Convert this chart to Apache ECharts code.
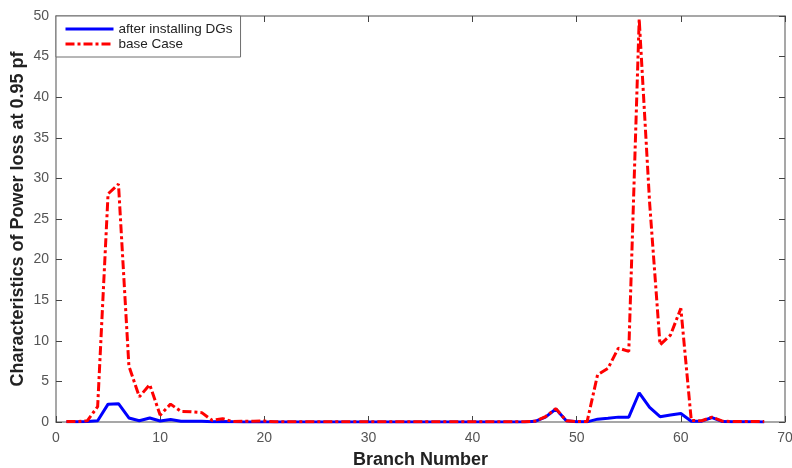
<!DOCTYPE html>
<html>
<head>
<meta charset="utf-8">
<script src="https://cdn.jsdelivr.net/npm/echarts@6/dist/echarts.min.js"></script>
<style>
html,body{margin:0;padding:0;background:#fff;}
#main{width:792px;height:468px;}
</style>
</head>
<body>
<div id="main"></div>
<script>
// branch numbers and power loss values
var branches = [];
for (var b = 1; b <= 68; b++) branches.push(b);

var afterDG = [0.02,0.02,0.05,0.15,2.2,2.25,0.5,0.15,0.5,0.12,
	0.3,0.1,0.08,0.08,0.03,0.05,0.02,0.01,0.01,0.01,
	0.01,0.01,0.01,0.01,0.01,0.01,0.01,0.01,0.01,0.01,
	0.01,0.01,0.01,0.01,0.01,0.01,0.01,0.01,0.01,0.01,
	0.01,0.01,0.01,0.01,0.01,0.08,0.6,1.6,0.15,0.03,
	0.02,0.35,0.45,0.6,0.6,3.6,1.8,0.65,0.85,1.05,
	0.1,0.1,0.55,0.05,0.03,0.02,0.02,0.01];

var baseCase = [0.05,0.05,0.15,1.9,28.1,29.3,6.9,3.1,4.6,0.85,
	2.2,1.3,1.25,1.15,0.2,0.4,0.05,0.1,0.1,0.12,
	0.03,0.03,0.03,0.03,0.03,0.03,0.03,0.03,0.03,0.03,
	0.03,0.03,0.03,0.03,0.03,0.03,0.03,0.03,0.03,0.03,
	0.03,0.03,0.03,0.03,0.03,0.1,0.65,1.65,0.15,0.05,
	0.05,5.8,6.6,9.1,8.7,49.6,27,9.5,10.7,14.0,
	0.2,0.15,0.6,0.1,0.05,0.05,0.05,0.05];

var xTicks = [0,10,20,30,40,50,60,70];
var yTicks = [0,5,10,15,20,25,30,35,40,45,50];

function pairs(vals){
	var out = [];
	for (var i in branches) out.push([branches[i], vals[i]]);
	return out;
}

var axisGray = '#8a8a8a';
var font = 'Liberation Sans, Arial, sans-serif';

var myChart = echarts.init(document.getElementById('main'));
var option = {
	animation:false,
	backgroundColor:'#fff',
	grid:{left:56, right:7, top:16, bottom:46, containLabel:false, outerBoundsMode:'none'},
	legend:{
		orient:'vertical',
		left:56, top:16,
		padding:[6,8,6,8],
		itemGap:1,
		itemWidth:48, itemHeight:14,
		itemStyle:{opacity:0},
		lineStyle:{width:3},
		backgroundColor:'#fff',
		borderColor:'#6e6e6e', borderWidth:1, borderRadius:0,
		textStyle:{fontFamily:font, fontSize:13.5, color:'#222'},
		data:['after installing DGs','base Case']
	},
	xAxis:[{
		type:'value', min:xTicks[0], max:xTicks[xTicks.length-1], interval:10,
		name:'Branch Number', nameLocation:'middle', nameGap:29,
		nameTextStyle:{fontFamily:font, fontSize:18, fontWeight:'bold', color:'#222'},
		axisLine:{show:true, onZero:false, lineStyle:{color:axisGray, width:1.5}},
		axisTick:{show:true, inside:true, length:6, lineStyle:{color:'#444'}},
		axisLabel:{fontFamily:font, fontSize:14, color:'#555', margin:9},
		splitLine:{show:false}
	},{
		type:'value', position:'top', min:0, max:70, interval:10,
		axisLine:{show:true, onZero:false, lineStyle:{color:axisGray, width:1.5}},
		axisTick:{show:true, inside:true, length:6, lineStyle:{color:'#444'}},
		axisLabel:{show:false}, splitLine:{show:false}
	}],
	yAxis:[{
		type:'value', min:yTicks[0], max:yTicks[yTicks.length-1], interval:5,
		name:'Characteristics of Power loss at 0.95 pf', nameLocation:'middle', nameGap:29,
		nameMoveOverlap:false,
		nameTextStyle:{fontFamily:font, fontSize:18, fontWeight:'bold', color:'#222'},
		axisLine:{show:true, onZero:false, lineStyle:{color:axisGray, width:1.5}},
		axisTick:{show:true, inside:true, length:6, lineStyle:{color:'#444'}},
		axisLabel:{fontFamily:font, fontSize:14, color:'#555', margin:7},
		splitLine:{show:false}
	},{
		type:'value', position:'right', min:0, max:50, interval:5,
		axisLine:{show:true, onZero:false, lineStyle:{color:axisGray, width:1.5}},
		axisTick:{show:true, inside:true, length:6, lineStyle:{color:'#444'}},
		axisLabel:{show:false}, splitLine:{show:false}
	}],
	series:[{
		name:'after installing DGs',
		type:'line',
		symbol:'none',
		data:pairs(afterDG),
		itemStyle:{color:'#0000ff'},
		lineStyle:{color:'#0000ff', width:3}
	},{
		name:'base Case',
		type:'line',
		symbol:'none',
		data:pairs(baseCase),
		itemStyle:{color:'#ff0000'},
		lineStyle:{color:'#ff0000', width:3, type:[9,3,3,3]}
	}]
};
myChart.setOption(option);
</script>
</body>
</html>
